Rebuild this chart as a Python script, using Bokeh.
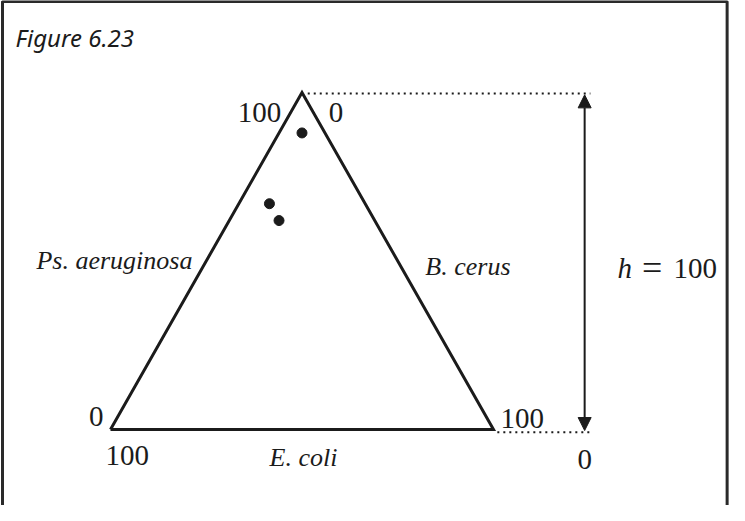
from bokeh.plotting import figure
from bokeh.models import Arrow, NormalHead
from bokeh.core.properties import value
from bokeh.embed import file_html
from bokeh.resources import INLINE

# ternary data (percent): E. coli, B. cerus, Ps. aeruginosa
e_coli = [6, 25, 25]
b_cerus = [6, 8, 13]
ps_aeruginosa = [88, 67, 62]

title_text = "Figure 6.23"
axis_names = ["Ps. aeruginosa", "B. cerus", "E. coli"]
tick_labels = ["100", "0"]


def tern(e, b, p):
    tot = e + b + p
    b, p = 100.0 * b / tot, 100.0 * p / tot
    return b + p / 2.0, p


xs, ys = zip(*[tern(e, b, p) for e, b, p in zip(e_coli, b_cerus, ps_aeruginosa)])

# vertices: E. coli (bottom-left), B. cerus (bottom-right), Ps. aeruginosa (top)
vx, vy = zip(*[tern(100, 0, 0), tern(0, 100, 0), tern(0, 0, 100), tern(100, 0, 0)])

p = figure(width=729, height=505, output_backend="svg", toolbar_location=None,
           x_range=(-28.72, 161.62), y_range=(-22.55, 127.3),
           x_axis_type=None, y_axis_type=None, min_border=0)
p.outline_line_color = None
p.grid.visible = False
p.background_fill_color = "white"

ink = "#1b1b1b"

# frame (left, top, right)
p.line([-28.2, -28.2, 161.0, 161.0], [-30, 127.0, 127.0, -30], line_color="#2a2a2a", line_width=3)

# triangle
p.line(list(vx), list(vy), line_color=ink, line_width=3, line_join="miter")

# dotted guides
p.line([51.5, 125.3], [99.7, 99.7], line_color=ink, line_width=2, line_dash="2 4")
p.line([101.0, 125.3], [-0.8, -0.8], line_color=ink, line_width=2, line_dash="2 4")

# height arrow
head = dict(size=13, fill_color=ink, line_color=ink)
p.add_layout(Arrow(start=NormalHead(**head), end=NormalHead(**head),
                   x_start=123.8, y_start=-0.3, x_end=123.8, y_end=99.3,
                   line_color=ink, line_width=2))

# points
p.scatter(list(xs), list(ys), size=10, fill_color=ink, line_color=ink)

serif = value("Liberation Serif")
UP = 2.4  # baseline correction


def txt(x, y, s, size, align="left", style="normal", font=serif):
    p.text(x=[x], y=[y + UP], text=[s], text_font=font, text_font_size=size,
           text_font_style=style, text_align=align, text_baseline="alphabetic",
           text_color=ink)


txt(-24.8, 113.9, title_text, "24px", style="italic", font=value("Noto Sans"))

txt(44.6, 91.7, tick_labels[0], "29px", align="right")
txt(57.0, 91.7, tick_labels[1], "29px")
txt(21.4, 47.8, axis_names[0], "26px", align="right", style="italic")
txt(82.2, 46.0, axis_names[1], "26px", style="italic")
txt(50.4, -10.6, axis_names[2], "26px", align="center", style="italic")
txt(-1.8, 1.5, tick_labels[1], "29px", align="right")
txt(-1.3, -10.1, tick_labels[0], "29px")
txt(101.8, 0.9, tick_labels[0], "29px")
txt(123.8, -11.3, tick_labels[1], "29px", align="center")

txt(132.4, 45.4, "h", "29px", style="italic")
txt(138.8, 45.4, "=", "36px")
txt(147.0, 45.4, "100", "29px")

open("out.html", "w").write(file_html(p, INLINE))
